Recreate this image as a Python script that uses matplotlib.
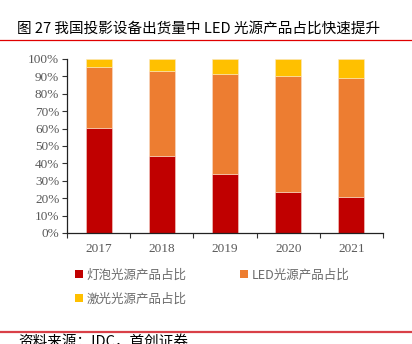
import matplotlib
matplotlib.use("Agg")
import matplotlib.pyplot as plt
import numpy as np
from matplotlib.patches import Patch
from matplotlib.lines import Line2D

years = ["2017", "2018", "2019", "2020", "2021"]
bulb = [60.5, 44.3, 33.7, 23.7, 20.5]
led = [35.1, 49.0, 57.9, 66.7, 68.8]
laser = [4.4, 6.7, 8.4, 9.6, 10.7]

series_names = ["灯泡光源产品占比", "LED光源产品占比", "激光光源产品占比"]
colors = ["#C00000", "#ED7D31", "#FFC000"]

cjk = ["Noto Sans CJK SC", "DejaVu Sans"]
serif = ["Liberation Serif", "Noto Sans CJK SC"]
gray = "#595959"

fig = plt.figure(figsize=(4.12, 3.44), dpi=100)
ax = fig.add_axes([0.1626, 0.3227, 0.767, 0.5058])

x = np.arange(len(years))
w = 0.41
b1 = np.array(bulb)
b2 = b1 + np.array(led)
ax.bar(x, bulb, w, color=colors[0], edgecolor="#f4d0c8", linewidth=0.4)
ax.bar(x, led, w, bottom=b1, color=colors[1], edgecolor="#f8dcc8", linewidth=0.4)
ax.bar(x, laser, w, bottom=b2, color=colors[2], edgecolor="#fbe9c0", linewidth=0.4)

ax.set_xlim(-0.5, 4.5)
ax.set_ylim(0, 100)
ax.set_yticks(np.arange(0, 101, 10))
ax.set_yticklabels([f"{v}%" for v in range(0, 101, 10)], family=serif, fontsize=9.5, color=gray)
ax.set_xticks(x)
ax.set_xticklabels(years, family=serif, fontsize=9.5, color=gray)
ax.set_xticks(np.arange(-0.5, 5, 1), minor=True)
ax.tick_params(axis="x", which="major", length=0, pad=7)
ax.tick_params(axis="x", which="minor", length=3.5, width=0.8, direction="out", color="#333333")
ax.tick_params(axis="y", length=3.5, width=0.8, direction="out", color="#333333", pad=2)
for s in ["top", "right"]:
    ax.spines[s].set_visible(False)
for s in ["left", "bottom"]:
    ax.spines[s].set_color("#222222")
    ax.spines[s].set_linewidth(0.9)

# legend: first column holds items 1 and 3, second column item 2
handles = [Patch(facecolor=c, edgecolor="none") for c in colors]
order = [0, 2, 1]
leg = fig.legend([handles[i] for i in order], [series_names[i] for i in order],
                 ncol=2, loc="upper left", bbox_to_anchor=(0.155, 0.252),
                 frameon=False, handlelength=0.6, handleheight=0.6,
                 handletextpad=0.3, columnspacing=4.3, labelspacing=0.9,
                 prop={"family": cjk, "size": 9})
for t in leg.get_texts():
    t.set_color("#6a6a6a")

# title and rules
fig.text(0.041, 0.905, "图 27 我国投影设备出货量中 LED 光源产品占比快速提升",
         family=cjk, fontsize=10.5, color="black", va="baseline")
fig.add_artist(Line2D([0, 1], [0.884, 0.884], color="#e00000", linewidth=0.9))
fig.add_artist(Line2D([0, 1], [0.036, 0.036], color="#d94048", linewidth=1.6))
fig.text(0.045, -0.005, "资料来源：IDC，首创证券", family=cjk, fontsize=10.5,
         style="italic", color="black", va="baseline")

fig.savefig("out.png", dpi=100)
